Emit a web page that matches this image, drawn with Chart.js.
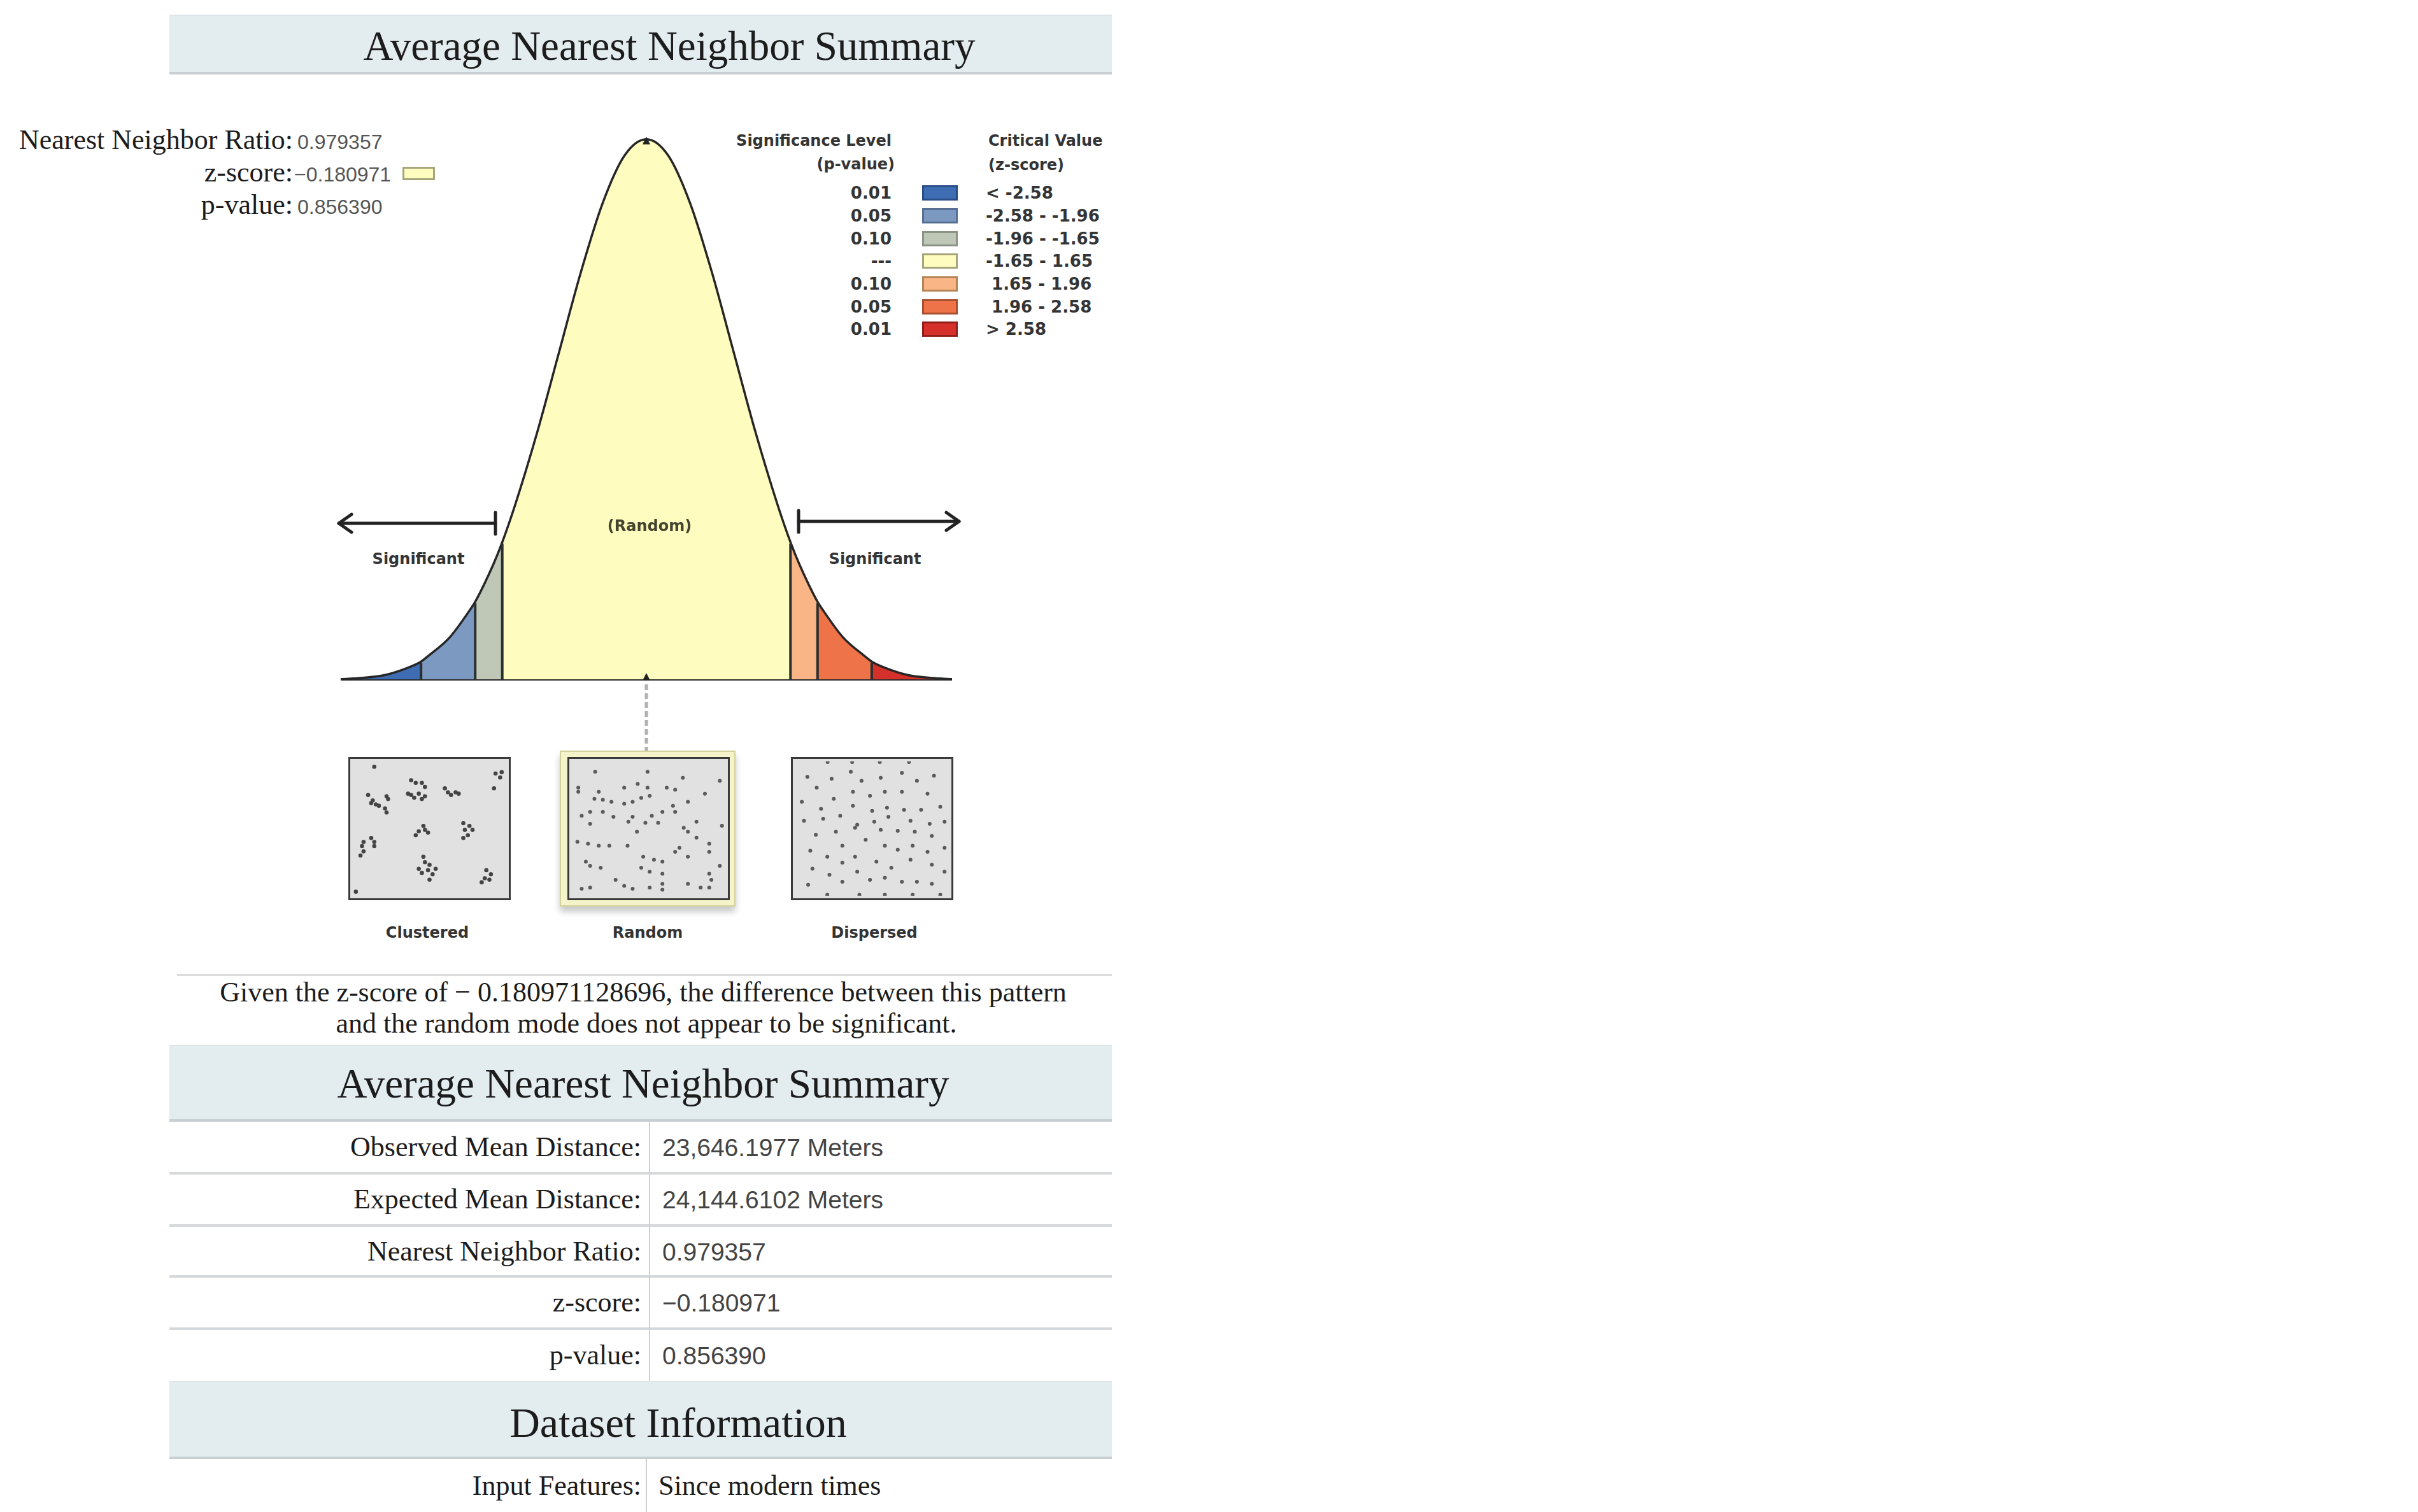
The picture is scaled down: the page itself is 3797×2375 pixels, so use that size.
<!DOCTYPE html>
<html><head><meta charset="utf-8">
<script src="https://cdn.jsdelivr.net/npm/chart.js@4.4.1/dist/chart.umd.min.js"></script>
<style>
html,body{margin:0;padding:0;background:#fff;}
body{width:3797px;height:2375px;position:relative;overflow:hidden;}
.abs{position:absolute;white-space:pre;}
.serif{font-family:'Liberation Serif','Times New Roman',serif;color:#1c1c1c;}
.sans{font-family:'Liberation Sans',Arial,sans-serif;}
.bold{font-family:'DejaVu Sans',Verdana,sans-serif;font-weight:bold;color:#343434;}
.band{position:absolute;left:266px;width:1480px;background:#e3ecef;border-top:2px solid #dde5e8;border-bottom:4px solid #c7cfd3;box-sizing:border-box;}
.hline{position:absolute;height:4px;background:#d6d9db;}
.vline{position:absolute;width:2px;background:#cfcfcf;}
canvas{position:absolute;}
</style></head><body>
<script>
// ---------------- DATA ----------------
const curveZ      = [-3.5,-3.25,-3,-2.75,-2.58,-2.5,-2.25,-2,-1.96,-1.75,-1.65,-1.5,-1.25,-1,-0.75,-0.5,-0.25,0,0.25,0.5,0.75,1,1.25,1.5,1.65,1.75,1.96,2,2.25,2.5,2.58,2.75,3,3.25,3.5];
const curveHeight = [0.001,0.002,0.004,0.009,0.014,0.018,0.032,0.054,0.058,0.086,0.102,0.130,0.183,0.242,0.301,0.352,0.387,0.399,0.387,0.352,0.301,0.242,0.183,0.130,0.102,0.086,0.058,0.054,0.032,0.018,0.014,0.009,0.004,0.002,0.001];
const bandEdges   = [-3.5,-2.58,-1.96,-1.65,1.65,1.96,2.58,3.5];
const markerZ     = 0;
const legendPValues   = ['0.01','0.05','0.10','---','0.10','0.05','0.01'];
const legendCritical  = ['< -2.58','-2.58 - -1.96','-1.96 - -1.65','-1.65 - 1.65',' 1.65 - 1.96',' 1.96 - 2.58','> 2.58'];
const leftLabels  = ['Nearest Neighbor Ratio:','z-score:','p-value:'];
const leftValues  = ['0.979357','\u22120.180971','0.856390'];
const summaryLabels = ['Observed Mean Distance:','Expected Mean Distance:','Nearest Neighbor Ratio:','z-score:','p-value:'];
const summaryValues = ['23,646.1977 Meters','24,144.6102 Meters','0.979357','\u22120.180971','0.856390'];
const datasetLabels = ['Input Features:'];
const datasetValues = ['Since modern times'];
const patternNames = ['Clustered','Random','Dispersed'];
const descLines = ['Given the z-score of \u2212 0.180971128696, the difference between this pattern','and the random mode does not appear to be significant.'];
const clusteredDots = [[14,4],[10,25],[13,29],[15,32],[17,33],[12,31],[22,26],[23,28],[21,35],[22,38],[38,14],[41,16],[45,16],[47,19],[36,24],[40,27],[43,24],[47,26],[45,28],[38,25],[60,20],[62,23],[64,25],[67,23],[69,24],[93,9],[96,12],[92,20],[97,8],[46,48],[47,51],[43,52],[49,53],[41,55],[72,46],[76,48],[73,51],[78,51],[75,55],[72,57],[12,57],[7,60],[14,60],[6,63],[14,63],[7,67],[5,70],[46,71],[47,75],[50,77],[43,80],[49,81],[54,80],[45,83],[52,84],[50,88],[87,81],[90,84],[86,87],[89,88],[84,90],[2,97]];
const randomDots = [[15.2,7.7],[49.3,7.7],[72.3,12.2],[96.4,14.4],[4.2,19.6],[4.2,22.6],[17.5,22.6],[34.1,19.6],[42.9,16.7],[49.3,19.6],[61.8,19.6],[67.3,21.1],[14.7,27.8],[20.2,28.6],[25.8,30.1],[34.1,31.5],[39.6,30.1],[45.2,27.1],[50.7,25.6],[86.7,24.1],[75.6,30.1],[65.9,33.0],[6.4,40.5],[11.9,37.5],[20.2,37.5],[27.1,41.2],[39.6,41.2],[52.1,40.5],[59.0,37.5],[67.3,37.5],[11.9,46.4],[36.8,44.9],[47.9,45.7],[56.2,45.7],[72.9,49.4],[81.2,44.9],[75.6,52.4],[42.4,52.4],[97.8,47.9],[3.6,59.8],[10.5,61.3],[17.5,62.8],[24.4,62.8],[36.3,62.8],[81.2,56.8],[89.5,61.3],[70.1,64.3],[67.3,67.3],[89.5,67.3],[46.5,71.0],[53.5,73.2],[59.0,74.7],[75.6,71.0],[9.1,74.7],[11.9,77.7],[18.8,79.2],[45.2,79.2],[50.7,82.1],[59.0,83.6],[89.5,83.6],[90.9,88.1],[28.5,88.1],[34.1,92.6],[39.6,94.8],[50.7,94.0],[59.0,91.1],[59.0,95.5],[75.6,91.1],[83.9,94.0],[89.5,94.0],[96.4,77.7],[6.4,94.8],[11.9,94.0]];
const dispersedDots = [[7.8,11.5],[23.6,12.9],[36.1,7.7],[43.1,14.4],[55.6,12.2],[69.4,8.5],[79.2,14.4],[90.3,10.7],[13.9,19.6],[25.0,27.8],[37.5,22.6],[48.6,25.6],[58.3,22.6],[69.4,22.6],[86.1,24.1],[4.2,30.1],[16.7,35.3],[37.5,33.0],[50.0,36.8],[59.7,34.5],[70.8,36.0],[81.9,36.0],[94.4,33.8],[5.6,44.2],[18.1,42.7],[29.2,40.5],[40.3,47.2],[51.4,44.9],[60.6,41.2],[75.0,44.2],[87.5,46.4],[13.3,54.6],[26.4,52.4],[38.9,49.4],[45.8,58.3],[55.6,50.9],[66.7,51.6],[77.8,52.4],[88.9,55.4],[9.7,66.5],[20.8,71.0],[30.6,62.8],[38.9,71.0],[58.3,62.8],[66.7,65.8],[76.4,62.8],[86.1,67.3],[97.2,64.3],[11.1,79.9],[22.2,84.4],[30.6,75.4],[40.3,82.1],[52.8,74.7],[62.5,79.2],[75.0,73.2],[88.9,76.9],[8.3,91.8],[30.6,89.6],[48.6,88.1],[58.3,86.6],[69.4,89.6],[79.2,89.6],[88.9,91.1],[97.2,82.1],[97.2,44.9],[20.8,99.3],[41.7,99.3],[58.3,99.3],[76.4,99.3],[94.4,99.3],[21,0.5],[37,0.5],[55,0.5],[74,0.5]];

// ---------------- STYLES ----------------
const bandFill   = ['#3e6db4','#7b99c1','#bfc8b7','#fffcbf','#f9b585','#ef7349','#d6302a'];
const bandBorder = ['#284c86','#566f93','#8b9484','#a6a47a','#b58455','#a84f2f','#8f1f1a'];

// ---------------- HELPERS ----------------
function el(tag, cls, style, text){
  const d=document.createElement(tag); if(cls) d.className=cls;
  Object.assign(d.style, style||{}); if(text!==undefined) d.textContent=text;
  document.body.appendChild(d); return d;
}
function txt(str,x,y,cls,size,align,extra){
  const tx = align==='center'?'-50%':align==='right'?'-100%':'0';
  return el('div','abs '+cls,Object.assign({left:x+'px',top:y+'px',fontSize:size+'px',lineHeight:'1',transform:'translate('+tx+',-50%)'},extra||{}),str);
}
function pair(label,value,rightEdge,gap,y,lSize,vCls,vSize,vColor){
  const row=el('div','abs',{left:'0px',top:y+'px',transform:'translateY(-50%)',display:'flex',alignItems:'baseline',lineHeight:'1.2'});
  const a=document.createElement('span'); a.className='serif'; a.textContent=label;
  Object.assign(a.style,{display:'inline-block',width:rightEdge+'px',textAlign:'right',fontSize:lSize+'px'});
  const b=document.createElement('span'); b.className=vCls; b.textContent=value;
  Object.assign(b.style,{marginLeft:gap+'px',fontSize:vSize+'px',color:vColor});
  row.appendChild(a); row.appendChild(b); return row;
}

// ---------------- HEADER ----------------
el('div','band',{top:'23px',height:'94px'});
txt('Average Nearest Neighbor Summary',1051,72,'serif',65,'center');

// left stats
const leftY=[220,271,322];
leftLabels.forEach((l,i)=>pair(l,leftValues[i],460,i===1?2:7,leftY[i],44,'sans',32,'#555'));
el('div','',{position:'absolute',left:'632px',top:'262px',width:'51px',height:'21px',background:bandFill[3],border:'3px solid '+bandBorder[3],boxSizing:'border-box'});

// legend
txt('Significance Level',1400,221,'bold',24,'right');
txt('(p-value)',1405,258,'bold',24,'right');
txt('Critical Value',1552,221,'bold',24,'left');
txt('(z-score)',1552,259,'bold',24,'left');
const legY=[303,339,375,410,446,482,517];
legendPValues.forEach((p,i)=>{
  txt(p,1400,legY[i],'bold',26,'right');
  el('div','',{position:'absolute',left:'1448px',top:(legY[i]-12)+'px',width:'56px',height:'24px',background:bandFill[i],border:'3px solid '+bandBorder[i],boxSizing:'border-box'});
  txt(legendCritical[i],1548,legY[i],'bold',26,'left');
});

// annotations on curve
txt('Significant',657,878,'bold',24,'center');
txt('Significant',1374,878,'bold',24,'center');
txt('(Random)',1020,826,'bold',24,'center',{zIndex:3,color:'#45442f'});

// arrows (svg)
const svgNS='http://www.w3.org/2000/svg';
const svg=document.createElementNS(svgNS,'svg');
svg.setAttribute('width','3797'); svg.setAttribute('height','2375');
Object.assign(svg.style,{position:'absolute',left:'0',top:'0',zIndex:3});
svg.innerHTML=
 '<g stroke="#222" stroke-width="5" fill="none" stroke-linecap="round" stroke-linejoin="round">'+
 '<line x1="532" y1="822" x2="778" y2="822"/><line x1="778" y1="805" x2="778" y2="839"/>'+
 '<polyline points="552,808 532,822 552,836"/>'+
 '<line x1="1254" y1="819" x2="1506" y2="819"/><line x1="1254" y1="802" x2="1254" y2="836"/>'+
 '<polyline points="1486,805 1506,819 1486,833"/></g>';
document.body.appendChild(svg);

// ---------------- BELL CHART ----------------
const bell=document.createElement('canvas');
bell.width=1080; bell.height=1040;
Object.assign(bell.style,{left:'480px',top:'150px',zIndex:1});
document.body.appendChild(bell);

function bandPoints(a,b){
  const pts=[];
  curveZ.forEach((z,i)=>{ if(z>=a-1e-9 && z<=b+1e-9) pts.push({x:z,y:curveHeight[i]}); });
  return pts;
}
const datasets=[];
for(let k=0;k<bandEdges.length-1;k++){
  datasets.push({data:bandPoints(bandEdges[k],bandEdges[k+1]),backgroundColor:bandFill[k],borderWidth:0,borderColor:'rgba(0,0,0,0)',fill:'origin',cubicInterpolationMode:'monotone',pointRadius:0,order:3});
}
datasets.push({data:[{x:-3.5,y:0},{x:3.5,y:0}],borderColor:'#2c2c2c',borderWidth:4,fill:false,pointRadius:0,order:2});
datasets.push({data:curveZ.map((z,i)=>({x:z,y:curveHeight[i]})),borderColor:'#262626',borderWidth:3.5,fill:false,cubicInterpolationMode:'monotone',pointRadius:0,order:1});

const bellDecor={
  id:'bellDecor',
  afterDatasetsDraw(chart){
    const {ctx,scales:{x,y}}=chart;
    ctx.save();
    ctx.strokeStyle='#2b2f2f'; ctx.lineWidth=4;
    for(let k=1;k<bandEdges.length-1;k++){
      const z=bandEdges[k]; const i=curveZ.indexOf(z);
      const px=x.getPixelForValue(z);
      ctx.beginPath(); ctx.moveTo(px,y.getPixelForValue(0)); ctx.lineTo(px,y.getPixelForValue(curveHeight[i])+2); ctx.stroke();
    }
    const mx=x.getPixelForValue(markerZ), by=y.getPixelForValue(0);
    ctx.strokeStyle='#b0b0b0'; ctx.lineWidth=5; ctx.setLineDash([9,5]);
    ctx.beginPath(); ctx.moveTo(mx,by+6); ctx.lineTo(mx,by+110); ctx.stroke();
    ctx.setLineDash([]);
    ctx.fillStyle='#222';
    ctx.beginPath(); ctx.moveTo(mx-6,by); ctx.lineTo(mx,by-12); ctx.lineTo(mx+6,by); ctx.closePath(); ctx.fill();
    const pk=y.getPixelForValue(Math.max(...curveHeight));
    ctx.beginPath(); ctx.moveTo(mx-6,pk+8); ctx.lineTo(mx,pk-4); ctx.lineTo(mx+6,pk+8); ctx.closePath(); ctx.fill();
    ctx.restore();
  }
};
new Chart(bell,{
  type:'line',
  data:{datasets},
  options:{
    responsive:false,animation:false,
    layout:{padding:{left:55,right:65,top:24,bottom:121}},
    plugins:{legend:{display:false},tooltip:{enabled:false}},
    elements:{point:{radius:0}},
    scales:{
      x:{type:'linear',min:-3.5,max:3.5,display:false},
      y:{type:'linear',min:0,max:0.42,display:false}
    }
  },
  plugins:[bellDecor]
});

// ---------------- PATTERN BOXES ----------------
el('div','',{position:'absolute',left:'879px',top:'1179px',width:'276px',height:'245px',background:'#f4f3c9',border:'2px solid #d3d29c',boxSizing:'border-box',boxShadow:'0 8px 10px rgba(0,0,0,0.22)'});
const boxLeft=[547,891,1242];
const dotSets=[clusteredDots,randomDots,dispersedDots];
boxLeft.forEach((lx,i)=>{
  el('div','',{position:'absolute',left:lx+'px',top:'1189px',width:'255px',height:'225px',background:'#e1e1e1',border:'3px solid #3a3a3a',boxSizing:'border-box'});
  const c=document.createElement('canvas'); c.width=249; c.height=219;
  Object.assign(c.style,{left:(lx+3)+'px',top:'1192px',zIndex:2});
  document.body.appendChild(c);
  new Chart(c,{type:'scatter',
    data:{datasets:[{data:dotSets[i].map(p=>({x:p[0],y:p[1]})),backgroundColor:i===0?'#444':'#5a5a5a',borderWidth:0,pointRadius:i===0?3.3:3}]},
    options:{responsive:false,animation:false,layout:{padding:0},
      plugins:{legend:{display:false},tooltip:{enabled:false}},
      scales:{x:{type:'linear',min:0,max:100,display:false},y:{type:'linear',min:0,max:100,reverse:true,display:false}}}
  });
  txt(patternNames[i],[671,1017,1373][i],1465,'bold',24,'center');
});

// ---------------- DESCRIPTION ----------------
el('div','hline',{left:'278px',top:'1530px',width:'1468px',height:'3px',background:'#dcdcdc'});
txt(descLines[0],1010,1559,'serif',44,'center');
txt(descLines[1],1015,1608,'serif',44,'center');

// ---------------- SUMMARY TABLE ----------------
el('div','band',{top:'1641px',height:'121px'});
txt('Average Nearest Neighbor Summary',1010,1702,'serif',65,'center');
const rowY=[1802,1884,1966,2046,2129];
[1843,1925,2005,2087].forEach(y=>el('div','hline',{left:'266px',top:(y-2)+'px',width:'1480px'}));
el('div','vline',{left:'1019px',top:'1762px',height:'408px'});
summaryLabels.forEach((l,i)=>pair(l,summaryValues[i],1007,33,rowY[i],44,'sans',39,'#444'));

el('div','band',{top:'2169px',height:'123px'});
txt('Dataset Information',1065,2235,'serif',66,'center');
el('div','vline',{left:'1014px',top:'2292px',height:'83px'});
datasetLabels.forEach((l,i)=>pair(l,datasetValues[i],1007,27,2334,44,'serif',44,'#1c1c1c'));
</script>
</body></html>
